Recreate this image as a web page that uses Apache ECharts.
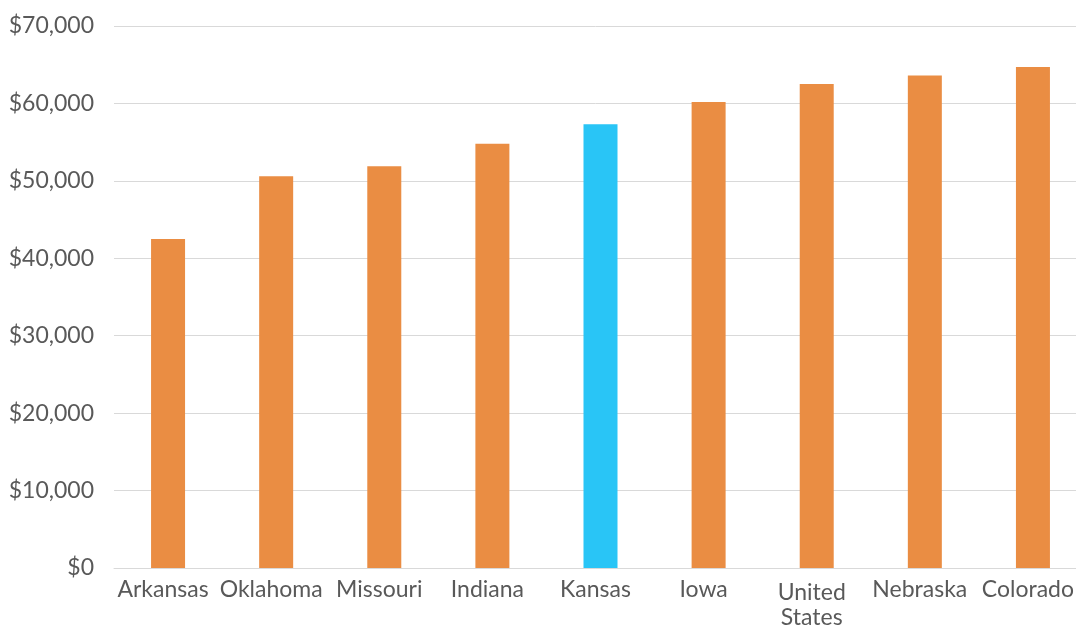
<!DOCTYPE html>
<html>
<head>
<meta charset="utf-8">
<script src="https://cdn.jsdelivr.net/npm/echarts@6/dist/echarts.min.js"></script>
<style>
html, body { margin: 0; padding: 0; background: #fff; }
#chart { width: 1076px; height: 629px; }
</style>
</head>
<body>
<div id="chart"></div>
<script>
var states = ['Arkansas', 'Oklahoma', 'Missouri', 'Indiana', 'Kansas', 'Iowa', 'United States', 'Nebraska', 'Colorado'];
var income = [42500, 50600, 51900, 54800, 57300, 60200, 62500, 63600, 64700];
var highlight = 'Kansas';

var orange = '#EA8D43';
var blue = '#29C5F6';

var myChart = echarts.init(document.getElementById('chart'));

var option = {
    backgroundColor: '#fff',
    animation: false,
    textStyle: { fontFamily: 'Lato' },
    grid: {
        left: 114,
        width: 973,
        top: 26,
        bottom: 61,
        containLabel: false,
        outerBoundsMode: 'none'
    },
    xAxis: {
        type: 'category',
        data: states,
        axisTick: { show: false },
        axisLine: { lineStyle: { color: '#d9d9d9', width: 1 } },
        axisLabel: {
            color: '#595959',
            fontSize: 23,
            margin: 9,
            interval: 0,
            lineHeight: 25,
            padding: [0, 10, 0, 0],
            formatter: function (v) {
                return v == 'United States' ? '{w|United\nStates}' : v;
            },
            rich: {
                w: { fontSize: 23, lineHeight: 25, color: '#595959', padding: [6, 0, 0, 0] }
            }
        }
    },
    yAxis: {
        type: 'value',
        min: 0,
        max: 70000,
        interval: 10000,
        axisLine: { show: false },
        axisTick: { show: false },
        splitLine: { lineStyle: { color: '#d9d9d9', width: 1 } },
        axisLabel: {
            color: '#595959',
            fontSize: 23,
            margin: 20,
            formatter: function (v) {
                return '$' + echarts.format.addCommas(v);
            }
        }
    },
    series: [{
        type: 'bar',
        barWidth: 34,
        data: income.map(function (v, i) {
            return {
                value: v,
                itemStyle: { color: states[i] == highlight ? blue : orange }
            };
        })
    }]
};

myChart.setOption(option);
</script>
</body>
</html>
